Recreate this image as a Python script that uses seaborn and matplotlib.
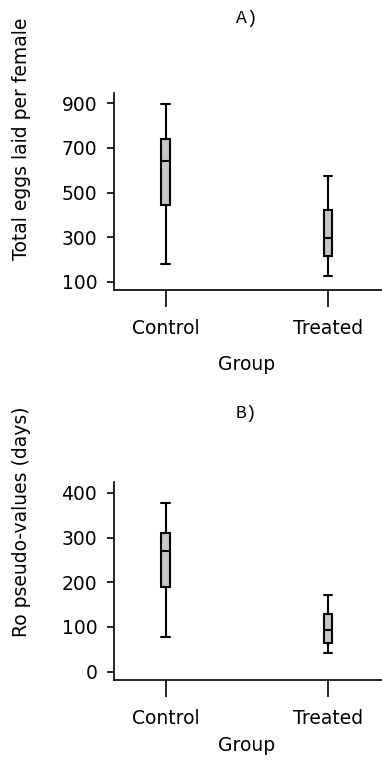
import matplotlib
matplotlib.use("Agg")
import matplotlib.pyplot as plt
import numpy as np
import pandas as pd
import seaborn as sns

# Five-number summaries: min, q1, median, q3, max
groups = ["Control", "Treated"]
eggs_control = [180, 444, 641, 739, 894]
eggs_treated = [128, 216, 298, 423, 575]
ro_control = [78, 189, 270, 311, 378]
ro_treated = [41, 65, 92, 128, 171]

eggs_ticks = [100, 300, 500, 700, 900]
ro_ticks = [0, 100, 200, 300, 400]


def to_frame(control, treated):
    # 5 points per group: with linear percentiles the box hits q1/median/q3 exactly
    return pd.DataFrame({
        "Group": [groups[0]] * len(control) + [groups[1]] * len(treated),
        "value": list(control) + list(treated),
    })


sns.set_style("ticks")
plt.rcParams["font.family"] = ["DejaVu Sans"]
plt.rcParams["font.size"] = 13.5
plt.rcParams["text.color"] = "black"
plt.rcParams["axes.labelcolor"] = "black"
plt.rcParams["xtick.color"] = "black"
plt.rcParams["ytick.color"] = "black"
plt.rcParams["axes.edgecolor"] = "black"

fig = plt.figure(figsize=(3.82, 7.63), dpi=100)
ax_a = fig.add_axes([0.298, 0.620, 0.702, 0.258])
ax_b = fig.add_axes([0.298, 0.109, 0.702, 0.259])

panels = [
    (ax_a, to_frame(eggs_control, eggs_treated), "Total eggs laid per female",
     eggs_ticks, (64, 945), "A)", 0.77, -0.33, 1.38),
    (ax_b, to_frame(ro_control, ro_treated), "Ro pseudo-values (days)",
     ro_ticks, (-18.5, 424), "B)", 0.80, -0.285, 1.35),
]

for ax, df, ylabel, yticks, ylim, tag, ylab_y, xlab_y, tag_y in panels:
    sns.boxplot(
        data=df, x="Group", y="value", ax=ax,
        whis=(0, 100), width=0.055, color="#c6c6c6",
        linecolor="black", linewidth=1.5,
        capwidths=0.055, showfliers=False,
    )
    ax.set_xlim(-0.321, 1.333)
    ax.set_ylim(*ylim)
    ax.set_yticks(yticks)
    ax.spines[["top", "right"]].set_visible(False)
    ax.spines[["left", "bottom"]].set_linewidth(1.2)
    ax.tick_params(axis="y", direction="out", length=5, width=1.2, pad=7)
    ax.tick_params(axis="x", direction="out", length=12, width=1.2, pad=9)
    ax.set_xlabel("Group")
    ax.xaxis.set_label_coords(0.496, xlab_y)
    ax.set_ylabel(ylabel, va="center")
    ax.yaxis.set_label_coords(-0.343, ylab_y)
    ax.text(0.496, tag_y, tag, transform=ax.transAxes, ha="center", va="center",
            family="Liberation Mono", fontsize=13)

fig.savefig("out.png", dpi=100)
